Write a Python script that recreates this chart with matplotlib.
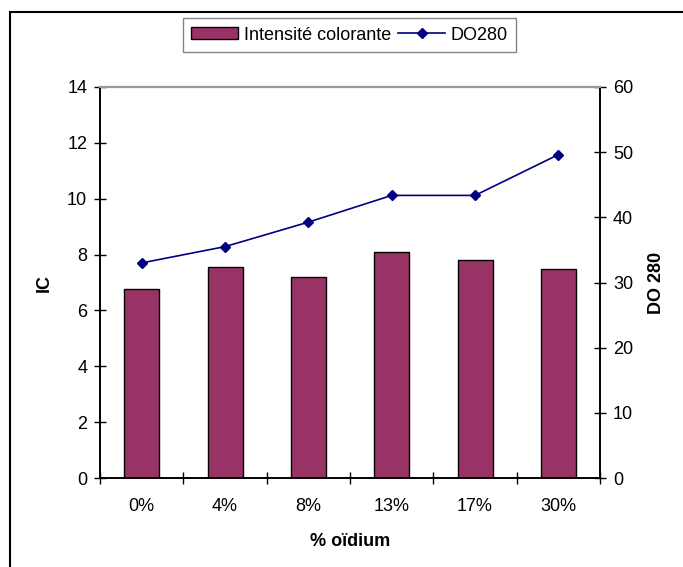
import matplotlib
matplotlib.use("Agg")
import matplotlib.pyplot as plt
from matplotlib.patches import Rectangle
import numpy as np

plt.rcParams['font.family'] = ['Liberation Sans', 'DejaVu Sans']

categories = ['0%', '4%', '8%', '13%', '17%', '30%']
ic_values = [6.76, 7.56, 7.18, 8.09, 7.79, 7.49]
do280_values = [33.0, 35.5, 39.25, 43.35, 43.35, 49.6]

W, H = 683, 567
fs = 13
fig = plt.figure(figsize=(W / 100, H / 100), dpi=100)
# plot area in pixels: x 100..600, y 87..478
ax = fig.add_axes([100 / W, 1 - 478.2 / H, 500 / W, (478.2 - 86.8) / H])
ax2 = ax.twinx()

x = np.arange(len(categories))
bars = ax.bar(x, ic_values, width=0.42, color='#993366', edgecolor='black',
              linewidth=1.0, label='Intensité colorante', zorder=2)
line, = ax2.plot(x, do280_values, color='#000080', marker='D', markersize=5.5,
                 linewidth=1.2, label='DO280', zorder=3)

ax.set_xlim(-0.5, len(categories) - 0.5)
ax.set_ylim(0, 14)
ax.set_yticks(np.arange(0, 15, 2))
ax2.set_ylim(0, 60)
ax2.set_yticks(np.arange(0, 61, 10))

ax.set_xticks(x)
ax.set_xticklabels(categories)
ax.set_xticks(np.arange(-0.5, len(categories)), minor=True)
ax.tick_params(axis='x', which='major', length=0, pad=14, labelsize=fs)
ax.tick_params(axis='x', which='minor', length=8.5, direction='inout', width=1)
ax.tick_params(axis='y', length=8.5, direction='inout', width=1, labelsize=fs, pad=5)
ax2.tick_params(axis='y', length=8.5, direction='inout', width=1, labelsize=fs, pad=5)

for a in (ax, ax2):
    a.spines['top'].set_color('#999999')
    a.spines['top'].set_linewidth(1.5)
    a.spines['left'].set_linewidth(1.2)
    a.spines['right'].set_linewidth(1.2)
    a.spines['bottom'].set_linewidth(1.2)
ax.set_zorder(ax2.get_zorder() - 1)
ax.patch.set_visible(True)
ax2.patch.set_visible(False)

ax.set_ylabel('IC', fontsize=fs, fontweight='bold', labelpad=10)
ax2.set_ylabel('DO 280', fontsize=fs, fontweight='bold', labelpad=11)
ax.set_xlabel('% oïdium', fontsize=fs, fontweight='bold', labelpad=13)

leg = fig.legend([bars, line], ['Intensité colorante', 'DO280'],
                 loc='center', bbox_to_anchor=(349.5 / W, 1 - 35 / H),
                 ncol=2, frameon=True, fancybox=False, fontsize=fs,
                 handlelength=2.6, handleheight=0.6, handletextpad=0.3,
                 columnspacing=0.4, borderpad=0.45)
leg.get_frame().set_edgecolor('#666666')
leg.get_frame().set_linewidth(1.0)

# outer chart frame (cut at right/bottom edges)
fig.patches.append(Rectangle((10 / W, -0.1), 1.2, 1 - 12 / H + 0.1,
                             transform=fig.transFigure, fill=False,
                             edgecolor='black', linewidth=1.5))

fig.savefig('out.png', dpi=100)
